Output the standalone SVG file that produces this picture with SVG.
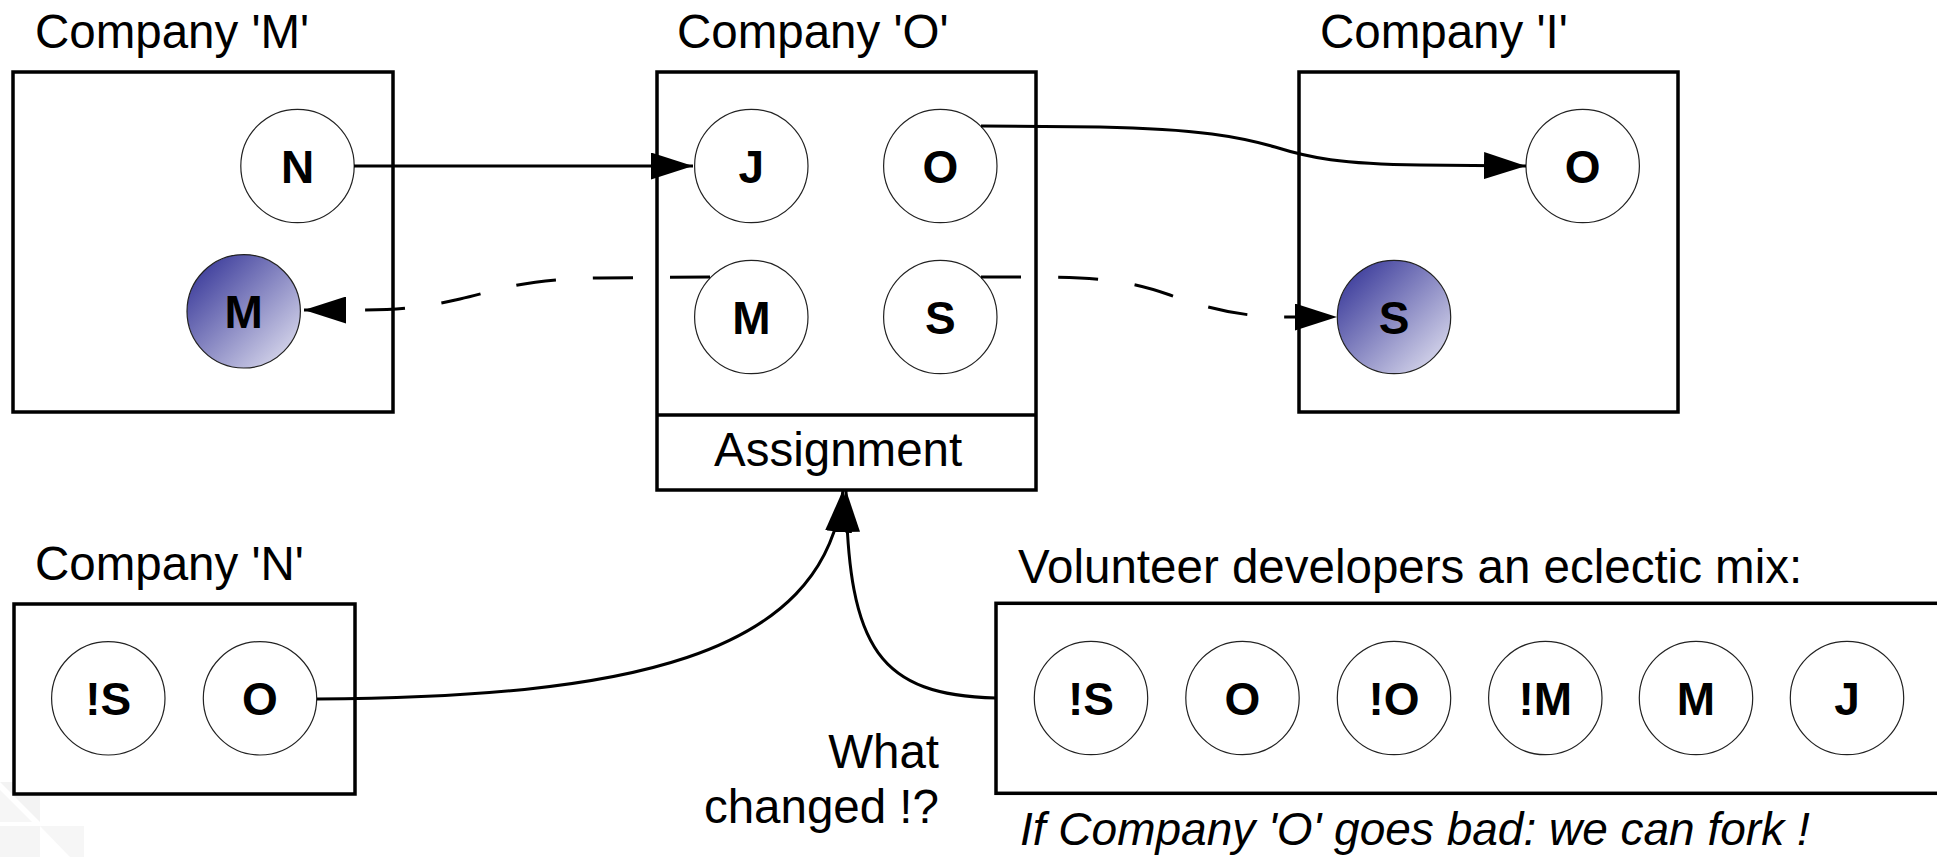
<svg xmlns="http://www.w3.org/2000/svg" width="1937" height="857" viewBox="0 0 1937 857">
<style>
.box{fill:#fff;stroke:#000;stroke-width:3.5}
.c{fill:#fff;stroke:#222;stroke-width:1.2}
.cf{fill:url(#blue);stroke:#222;stroke-width:1.2}
.lbl{font-family:"Liberation Sans",Arial,sans-serif;font-size:47.5px;fill:#000}
.it{font-style:italic;font-size:46px}
.ct{font-family:"Liberation Sans",Arial,sans-serif;font-size:46px;font-weight:bold;fill:#000;text-anchor:middle}
.ln{fill:none;stroke:#000;stroke-width:3}
.dash{stroke-dasharray:40 37}
</style>
<defs>
<linearGradient id="blue" x1="0" y1="0" x2="1" y2="1">
<stop offset="0" stop-color="#2a2a92"/>
<stop offset="1" stop-color="#e8e8f4"/>
</linearGradient>
<marker id="arr" markerUnits="userSpaceOnUse" viewBox="0 0 42 27" refX="42" refY="13.5" markerWidth="42" markerHeight="27" orient="auto">
<path d="M0,0 L42,13.5 L0,27 z" fill="#000"/>
</marker>
</defs>
<rect width="1937" height="857" fill="#fff"/>
<g id="watermark">
<polygon points="0,782 40,782 40,822" fill="#f3f3f3"/>
<polygon points="0,790 32,822 0,822" fill="#f6f6f6"/>
<polygon points="0,826 40,826 40,857 0,857" fill="#f5f5f5"/>
<polygon points="40,826 84,826 84,857 70,857" fill="#f6f6f6"/>
</g>
<g id="company-m">
<text class="lbl" x="35" y="48">Company 'M'</text>
<rect class="box" x="13" y="72" width="380" height="340"/>
<g id="m-n"><circle class="c" cx="297.5" cy="166" r="56.7"/><text class="ct" x="297.5" y="182.5">N</text></g>
<g id="m-m"><circle class="cf" cx="243.7" cy="311.3" r="56.7"/><text class="ct" x="243.7" y="327.8">M</text></g>
</g>
<g id="company-o">
<text class="lbl" x="677" y="48">Company 'O'</text>
<rect class="box" x="657" y="72" width="379" height="418"/>
<line x1="657" y1="415" x2="1036" y2="415" stroke="#000" stroke-width="3.5"/>
<text class="lbl" x="714" y="466">Assignment</text>
<g id="o-j"><circle class="c" cx="751.3" cy="166" r="56.7"/><text class="ct" x="751.3" y="182.5">J</text></g>
<g id="o-o"><circle class="c" cx="940.3" cy="166" r="56.7"/><text class="ct" x="940.3" y="182.5">O</text></g>
<g id="o-m"><circle class="c" cx="751.3" cy="317" r="56.7"/><text class="ct" x="751.3" y="333.5">M</text></g>
<g id="o-s"><circle class="c" cx="940.3" cy="317" r="56.7"/><text class="ct" x="940.3" y="333.5">S</text></g>
</g>
<g id="company-i">
<text class="lbl" x="1320" y="48">Company 'I'</text>
<rect class="box" x="1299" y="72" width="379" height="340"/>
<g id="i-o"><circle class="c" cx="1582.7" cy="166" r="56.7"/><text class="ct" x="1582.7" y="182.5">O</text></g>
<g id="i-s"><circle class="cf" cx="1394" cy="317" r="56.7"/><text class="ct" x="1394" y="333.5">S</text></g>
</g>
<g id="company-n">
<text class="lbl" x="35" y="580">Company 'N'</text>
<rect class="box" x="14" y="604" width="341" height="190"/>
<g id="n-nots"><circle class="c" cx="108.3" cy="698.3" r="56.7"/><text class="ct" x="108.3" y="714.8">!S</text></g>
<g id="n-o"><circle class="c" cx="260" cy="698.3" r="56.7"/><text class="ct" x="260" y="714.8">O</text></g>
</g>
<g id="volunteers">
<text class="lbl" x="1018" y="583">Volunteer developers an eclectic mix:</text>
<rect class="box" x="996" y="603.3" width="1000" height="190"/>
<g id="v1"><circle class="c" cx="1091" cy="698" r="56.7"/><text class="ct" x="1091" y="714.5">!S</text></g>
<g id="v2"><circle class="c" cx="1242.5" cy="698" r="56.7"/><text class="ct" x="1242.5" y="714.5">O</text></g>
<g id="v3"><circle class="c" cx="1394" cy="698" r="56.7"/><text class="ct" x="1394" y="714.5">!O</text></g>
<g id="v4"><circle class="c" cx="1545.3" cy="698" r="56.7"/><text class="ct" x="1545.3" y="714.5">!M</text></g>
<g id="v5"><circle class="c" cx="1696" cy="698" r="56.7"/><text class="ct" x="1696" y="714.5">M</text></g>
<g id="v6"><circle class="c" cx="1847" cy="698" r="56.7"/><text class="ct" x="1847" y="714.5">J</text></g>
<text class="lbl it" x="1020" y="845">If Company 'O' goes bad: we can fork !</text>
</g>
<g id="note">
<text class="lbl" x="939" y="768" text-anchor="end">What</text>
<text class="lbl" x="939" y="823" text-anchor="end">changed !?</text>
</g>
<g id="connectors">
<path class="ln" d="M354 166 L693 166" marker-end="url(#arr)"/>
<path class="ln" d="M981 126 L1100 127 C1200 129 1240 137 1275 147 C1310 158 1340 164 1420 165 L1526 166" marker-end="url(#arr)"/>
<path class="ln dash" d="M710 277 L600 278 C520 279 500 290 460 299 C420 308 400 310 350 310 L304 310" marker-end="url(#arr)"/>
<path class="ln dash" d="M981 277 L1030 277 C1100 277 1130 281 1170 295 C1210 309 1240 317 1290 317 L1337 317" marker-end="url(#arr)"/>
<path class="ln" d="M317 699 C620 697 825 660 843 490" marker-end="url(#arr)"/>
<path class="ln" d="M996 698 C880 695 848 650 846 490" marker-end="url(#arr)"/>
</g>
</svg>
